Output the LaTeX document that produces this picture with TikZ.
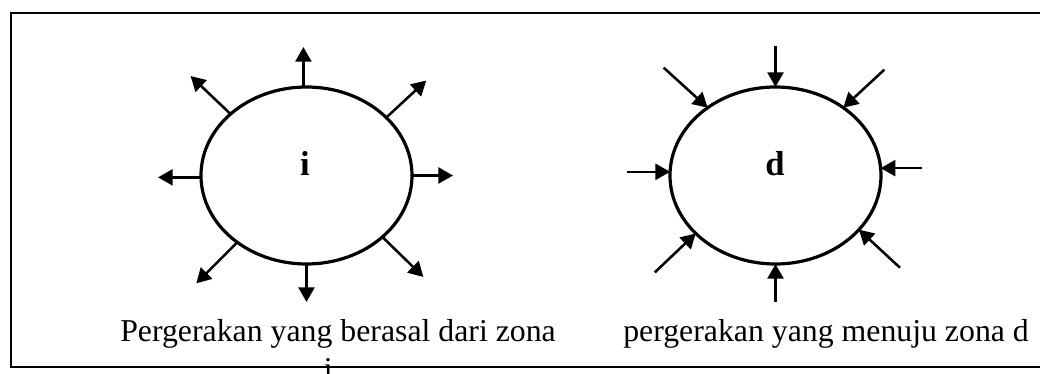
\documentclass[tikz,border=0pt]{standalone}
\usepackage{fontspec}
\setmainfont{Liberation Serif}
\usetikzlibrary{shapes.geometric,arrows.meta}
\tikzset{
  zone/.style={draw, ellipse, line width=2.4pt, minimum width=158.25pt, minimum height=132.75pt, inner sep=0pt, outer sep=0pt},
  zlabel/.style={font=\fontsize{26}{30}\selectfont\bfseries, inner sep=0pt, anchor=base},
  arr/.style={line width=1.9pt, -{Triangle[length=11pt,width=12pt]}},
  captext/.style={font=\fontsize{23.85}{28}\selectfont, inner sep=0pt, anchor=base west},
  frame/.style={line width=1.8pt}
}
\begin{document}
\begin{tikzpicture}[x=0.75pt,y=-0.75pt]
\clip (0,0) rectangle (1040,374);
\draw[frame] (11,13) rectangle (1060,367);
% left zone i
\node[zone] (ei) at (306.5,175.5) {};
\node[zlabel] (ti) at (305,176) {i};
\draw[arr] (ei.92) -- ++(0,-40);
\draw[arr] (ei.141.7) -- ++(-40,-38);
\draw[arr] (ei.36.3) -- ++(40,-37);
\draw[arr] (ei.east) -- ++(41,0);
\draw[arr] (ei.181) -- ++(-43,0);
\draw[arr] (ei.224.6) -- ++(-41,41);
\draw[arr] (ei.south) -- ++(0,38);
\draw[arr] (ei.321.7) -- ++(41,40);
% right zone d
\node[zone] (ed) at (775.5,175.5) {};
\node[zlabel] (td) at (775,176) {d};
\draw[arr] ([shift={(0,-41)}]ed.north) -- (ed.north);
\draw[arr] ([shift={(-44,-40)}]ed.135.8) -- (ed.135.8);
\draw[arr] ([shift={(41,-38)}]ed.45.8) -- (ed.45.8);
\draw[arr] ([shift={(41,0)}]ed.4) -- (ed.4);
\draw[arr] ([shift={(-43,0)}]ed.178) -- (ed.178);
\draw[arr] ([shift={(-41,39)}]ed.216.5) -- (ed.216.5);
\draw[arr] ([shift={(0,38)}]ed.south) -- (ed.south);
\draw[arr] ([shift={(41,38)}]ed.327.7) -- (ed.327.7);
% captions
\node[captext] (ci) at (120,342) {Pergerakan yang berasal dari zona};
\node[font=\fontsize{23.85}{28}\selectfont, inner sep=0pt, anchor=base] (ci2) at (328.3,379) {i};
\node[captext] (cd) at (623,342) {pergerakan yang menuju zona d};
\end{tikzpicture}
\end{document}
